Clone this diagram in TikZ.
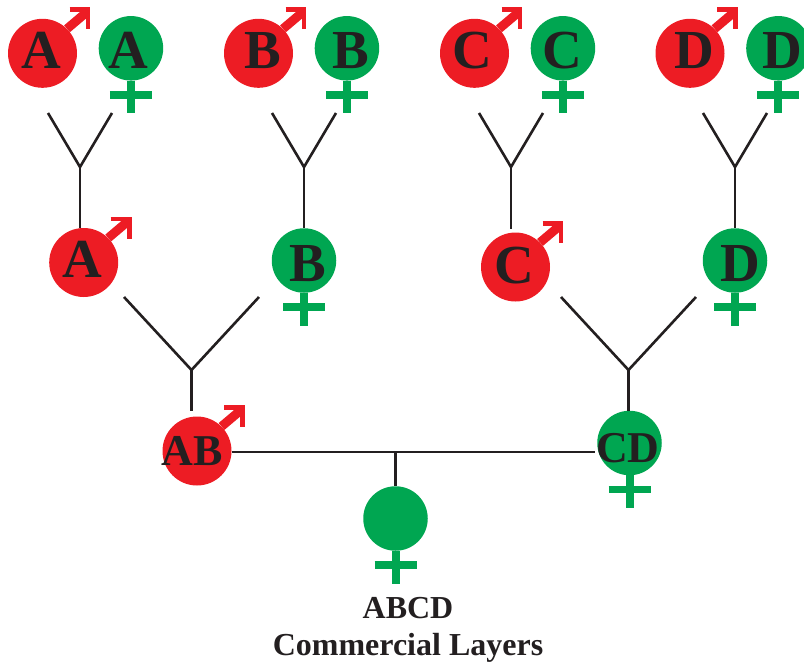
\documentclass[tikz,border=0pt]{standalone}
\usepackage{fontspec}
\setmainfont{Liberation Serif}
\usepackage{tikz}
\usetikzlibrary{positioning}
\usetikzlibrary{calc}
\definecolor{malered}{HTML}{ED1C24}
\definecolor{femalegreen}{HTML}{00A651}
\definecolor{inkblack}{HTML}{231F20}
\tikzset{
  malenode/.style={circle,fill=malered,inner sep=0pt,minimum size=69pt,text=inkblack,font=\fontsize{55}{55}\selectfont\bfseries},
  femalenode/.style={circle,fill=femalegreen,inner sep=0pt,minimum size=64.5pt,text=inkblack,font=\fontsize{55}{55}\selectfont\bfseries},
  smalltext/.style={font=\fontsize{44}{44}\selectfont\bfseries},
  link/.style={draw=inkblack,line width=2.6pt},
  caption/.style={text=inkblack,font=\fontsize{32}{32}\selectfont\bfseries,inner sep=0pt}
}
% letter in a circle: x offset, baseline below centre, text
\newcommand{\lett}[3]{\smash{\makebox[0pt]{\hspace*{\dimexpr2\dimexpr#1pt\relax\relax}\raisebox{-#2pt}{#3}}}}
% arrow and cross on a circle
\newcommand{\malemark}[1]{
  \draw[malered,line width=9pt] (#1.45) -- ($(#1.center)+(44,-41)$);
  \draw[malered,line width=4.8pt,miter limit=10] ($(#1.center)+(27,-43.5)$) -- ($(#1.center)+(45.5,-43.5)$) -- ($(#1.center)+(45.5,-24)$);
}
\newcommand{\femalemark}[1]{
  \draw[femalegreen,line width=8pt] (#1.south) -- ($(#1.center)+(0,65)$);
  \draw[femalegreen,line width=7.5pt] ($(#1.center)+(-21,46.5)$) -- ($(#1.center)+(21,46.5)$);
}
% Y shaped link, junction is #1
\newcommand{\ylink}[3]{
  \draw[link] ($(#1)+(-#2,-#3)$) -- (#1) -- ($(#1)+(#2,-#3)$);
}
\begin{document}
\begin{tikzpicture}[x=1pt,y=-1pt]
\useasboundingbox (0,0) rectangle (804,665);
%top row
\path node[malenode] (ma) at (42.5,53.3) {\lett{-1}{14.7}{A}};
\path node[femalenode,right=21.3pt of ma,yshift=5pt] (fa) {\lett{-2.3}{20}{A}};
\path node[malenode] (mb) at (258.5,53.3) {\lett{4}{15}{B}};
\path node[femalenode,right=21.3pt of mb,yshift=5pt] (fb) {\lett{3.5}{20}{B}};
\path node[malenode] (mc) at (474.5,53.3) {\lett{-2.5}{15}{C}};
\path node[femalenode,right=21.3pt of mc,yshift=5pt] (fc) {\lett{-1}{20}{C}};
\path node[malenode] (md) at (690,53.3) {\lett{4.5}{15}{D}};
\path node[femalenode,right=21.3pt of md,yshift=5pt] (fd) {\lett{3.5}{20}{D}};
%second row
\path node[malenode] (a) at (83.7,262.5) {\lett{-1}{14.5}{A}};
\path node[femalenode] (b) at (304,260.5) {\lett{4}{20.5}{B}};
\path node[malenode] (c) at (515.5,267) {\lett{-1.5}{16}{C}};
\path node[femalenode] (d) at (735,260.5) {\lett{5}{20.5}{D}};
%third row
\path node[malenode,smalltext] (ab) at (197,451) {\lett{-5}{14}{AB}};
\path node[femalenode,smalltext] (cd) at (629.5,443) {\lett{-1.5}{19}{CD}};
\path node[femalenode] (abcd) at (395.5,518.5) {};
\path node[caption] (t1) at (408,607.6) {ABCD};
\path node[caption,below=14.5pt of t1] (t2) {Commercial Layers};
\foreach \n in {ma,mb,mc,md,a,c,ab} {\malemark{\n}}
\foreach \n in {fa,fb,fc,fd,b,d,cd,abcd} {\femalemark{\n}}
%links
\coordinate (ja) at (80,167);
\coordinate (jb) at (304,167);
\coordinate (jc) at (511,167);
\coordinate (jd) at (735,167);
\coordinate (jab) at (191.5,370);
\coordinate (jcd) at (628.5,370);
\coordinate (jm) at (395.5,452);
\ylink{ja}{32}{54}
\ylink{jb}{32}{54}
\ylink{jc}{32}{54}
\ylink{jd}{32}{54}
\ylink{jab}{67.5}{73}
\ylink{jcd}{67.5}{73}
\draw[link] (ja) -- (ja |- a.north);
\draw[link] (jb) -- (jb |- b.north);
\draw[link,shorten >=3pt] (jc) -- (jc |- c.north);
\draw[link] (jd) -- (jd |- d.north);
\draw[link,shorten >=5pt] (jab) -- (jab |- ab.north);
\draw[link] (jcd) -- (jcd |- cd.north);
\draw[link,shorten >=2pt] (jm -| ab.east) -- (jm -| cd.west);
\draw[link] (jm) -- (abcd.north);
\end{tikzpicture}
\end{document}
